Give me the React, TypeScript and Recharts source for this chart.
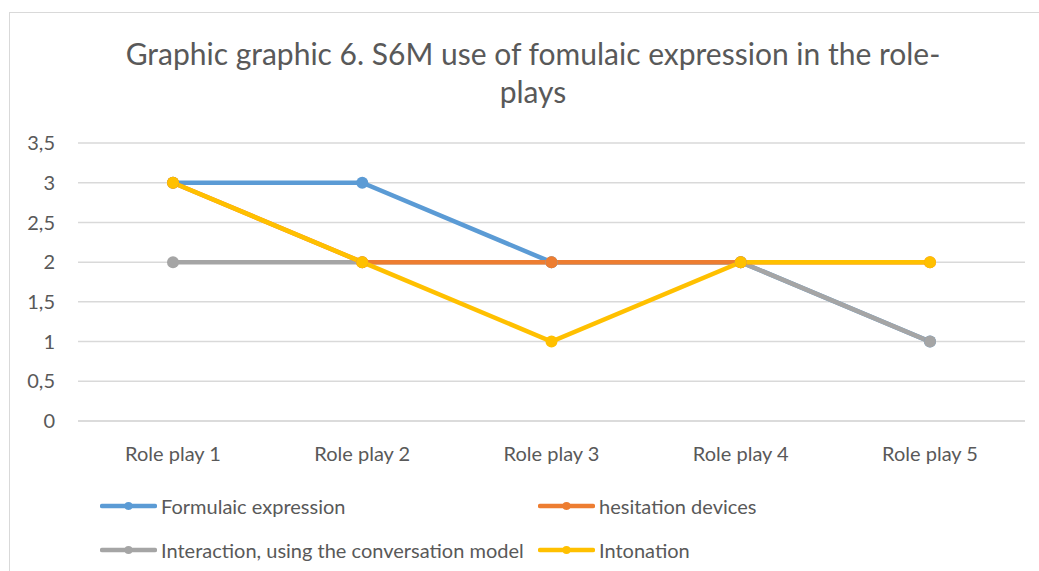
import React from "react";
import { LineChart, Line, XAxis, YAxis, CartesianGrid } from "recharts";

const categories = ["Role play 1", "Role play 2", "Role play 3", "Role play 4", "Role play 5"];
const formulaic = [3, 3, 2, 2, 1];
const hesitation = [3, 2, 2, 2, 2];
const interaction = [2, 2, 2, 2, 1];
const intonation = [3, 2, 1, 2, 2];
const yTicks = [0, 0.5, 1, 1.5, 2, 2.5, 3, 3.5];

const data = categories.map((name, i) => ({
  name,
  formulaic: formulaic[i],
  hesitation: hesitation[i],
  interaction: interaction[i],
  intonation: intonation[i],
}));

const FONT = "Lato, 'Open Sans', sans-serif";
const TEXT = "#595959";

const legendItems = [
  { label: "Formulaic expression", color: "#5B9BD5", x: 100, y: 506 },
  { label: "hesitation devices", color: "#ED7D31", x: 538, y: 506 },
  { label: "Interaction, using the conversation model", color: "#A5A5A5", x: 100, y: 550 },
  { label: "Intonation", color: "#FFC000", x: 538, y: 550 },
];

function LegendBox() {
  return (
    <>
      {legendItems.map((it) => (
        <div
          key={it.label}
          style={{ position: "absolute", left: it.x, top: it.y - 14, height: 28, display: "flex", alignItems: "center" }}
        >
          <svg width={57} height={12}>
            <line x1={2} y1={6} x2={55} y2={6} stroke={it.color} strokeWidth={4.5} strokeLinecap="round" />
            <circle cx={28.5} cy={6} r={4} fill={it.color} />
          </svg>
          <span style={{ fontFamily: FONT, fontSize: 20, color: TEXT, marginLeft: 4, whiteSpace: "nowrap" }}>{it.label}</span>
        </div>
      ))}
    </>
  );
}

export default function App() {
  return (
    <div style={{ position: "absolute", left: 0, top: 0, width: 1039, height: 571, background: "#fff", overflow: "hidden" }}>
      <div
        style={{
          position: "absolute",
          left: 9,
          top: 12,
          width: 1100,
          height: 600,
          borderTop: "1px solid #d9d9d9",
          borderLeft: "1px solid #d9d9d9",
        }}
      />
      <svg style={{ position: "absolute", left: 0, top: 0 }} width={1039} height={120}>
        <text x={533} y={65} textAnchor="middle" fontFamily={FONT} fontSize={30} fill={TEXT}>
          Graphic graphic 6. S6M use of  fomulaic expression in the role-
        </text>
        <text x={533} y={103} textAnchor="middle" fontFamily={FONT} fontSize={30} fill={TEXT}>
          plays
        </text>
      </svg>
      <div style={{ position: "absolute", left: 0, top: 0 }}>
        <LineChart width={1039} height={571} data={data} margin={{ top: 143, right: 14, bottom: 110, left: 38 }}>
          <CartesianGrid vertical={false} stroke="#d9d9d9" strokeWidth={1.5} />
          <XAxis
            dataKey="name"
            axisLine={{ stroke: "#d9d9d9", strokeWidth: 1.5 }}
            tickLine={false}
            height={40}
            tickMargin={20}
            padding={{ left: 95, right: 95 }}
            tick={{ fontFamily: FONT, fontSize: 20, fill: TEXT }}
          />
          <YAxis
            domain={[0, 3.5]}
            ticks={yTicks}
            width={40}
            axisLine={false}
            tickLine={false}
            tickMargin={17}
            tickFormatter={(v: number) => String(v).replace(".", ",")}
            tick={{ fontFamily: FONT, fontSize: 20, fill: TEXT }}
          />
          <Line dataKey="formulaic" name="Formulaic expression" stroke="#5B9BD5" strokeWidth={4.5} dot={{ r: 6, fill: "#5B9BD5", stroke: "#5B9BD5", strokeWidth: 0 }} isAnimationActive={false} />
          <Line dataKey="interaction" name="Interaction, using the conversation model" stroke="#A5A5A5" strokeWidth={4.5} dot={{ r: 6, fill: "#A5A5A5", stroke: "#A5A5A5", strokeWidth: 0 }} isAnimationActive={false} />
          <Line dataKey="hesitation" name="hesitation devices" stroke="#ED7D31" strokeWidth={4.5} dot={{ r: 6, fill: "#ED7D31", stroke: "#ED7D31", strokeWidth: 0 }} isAnimationActive={false} />
          <Line dataKey="intonation" name="Intonation" stroke="#FFC000" strokeWidth={4.5} dot={{ r: 6, fill: "#FFC000", stroke: "#FFC000", strokeWidth: 0 }} isAnimationActive={false} />
        </LineChart>
      </div>
      <LegendBox />
    </div>
  );
}
